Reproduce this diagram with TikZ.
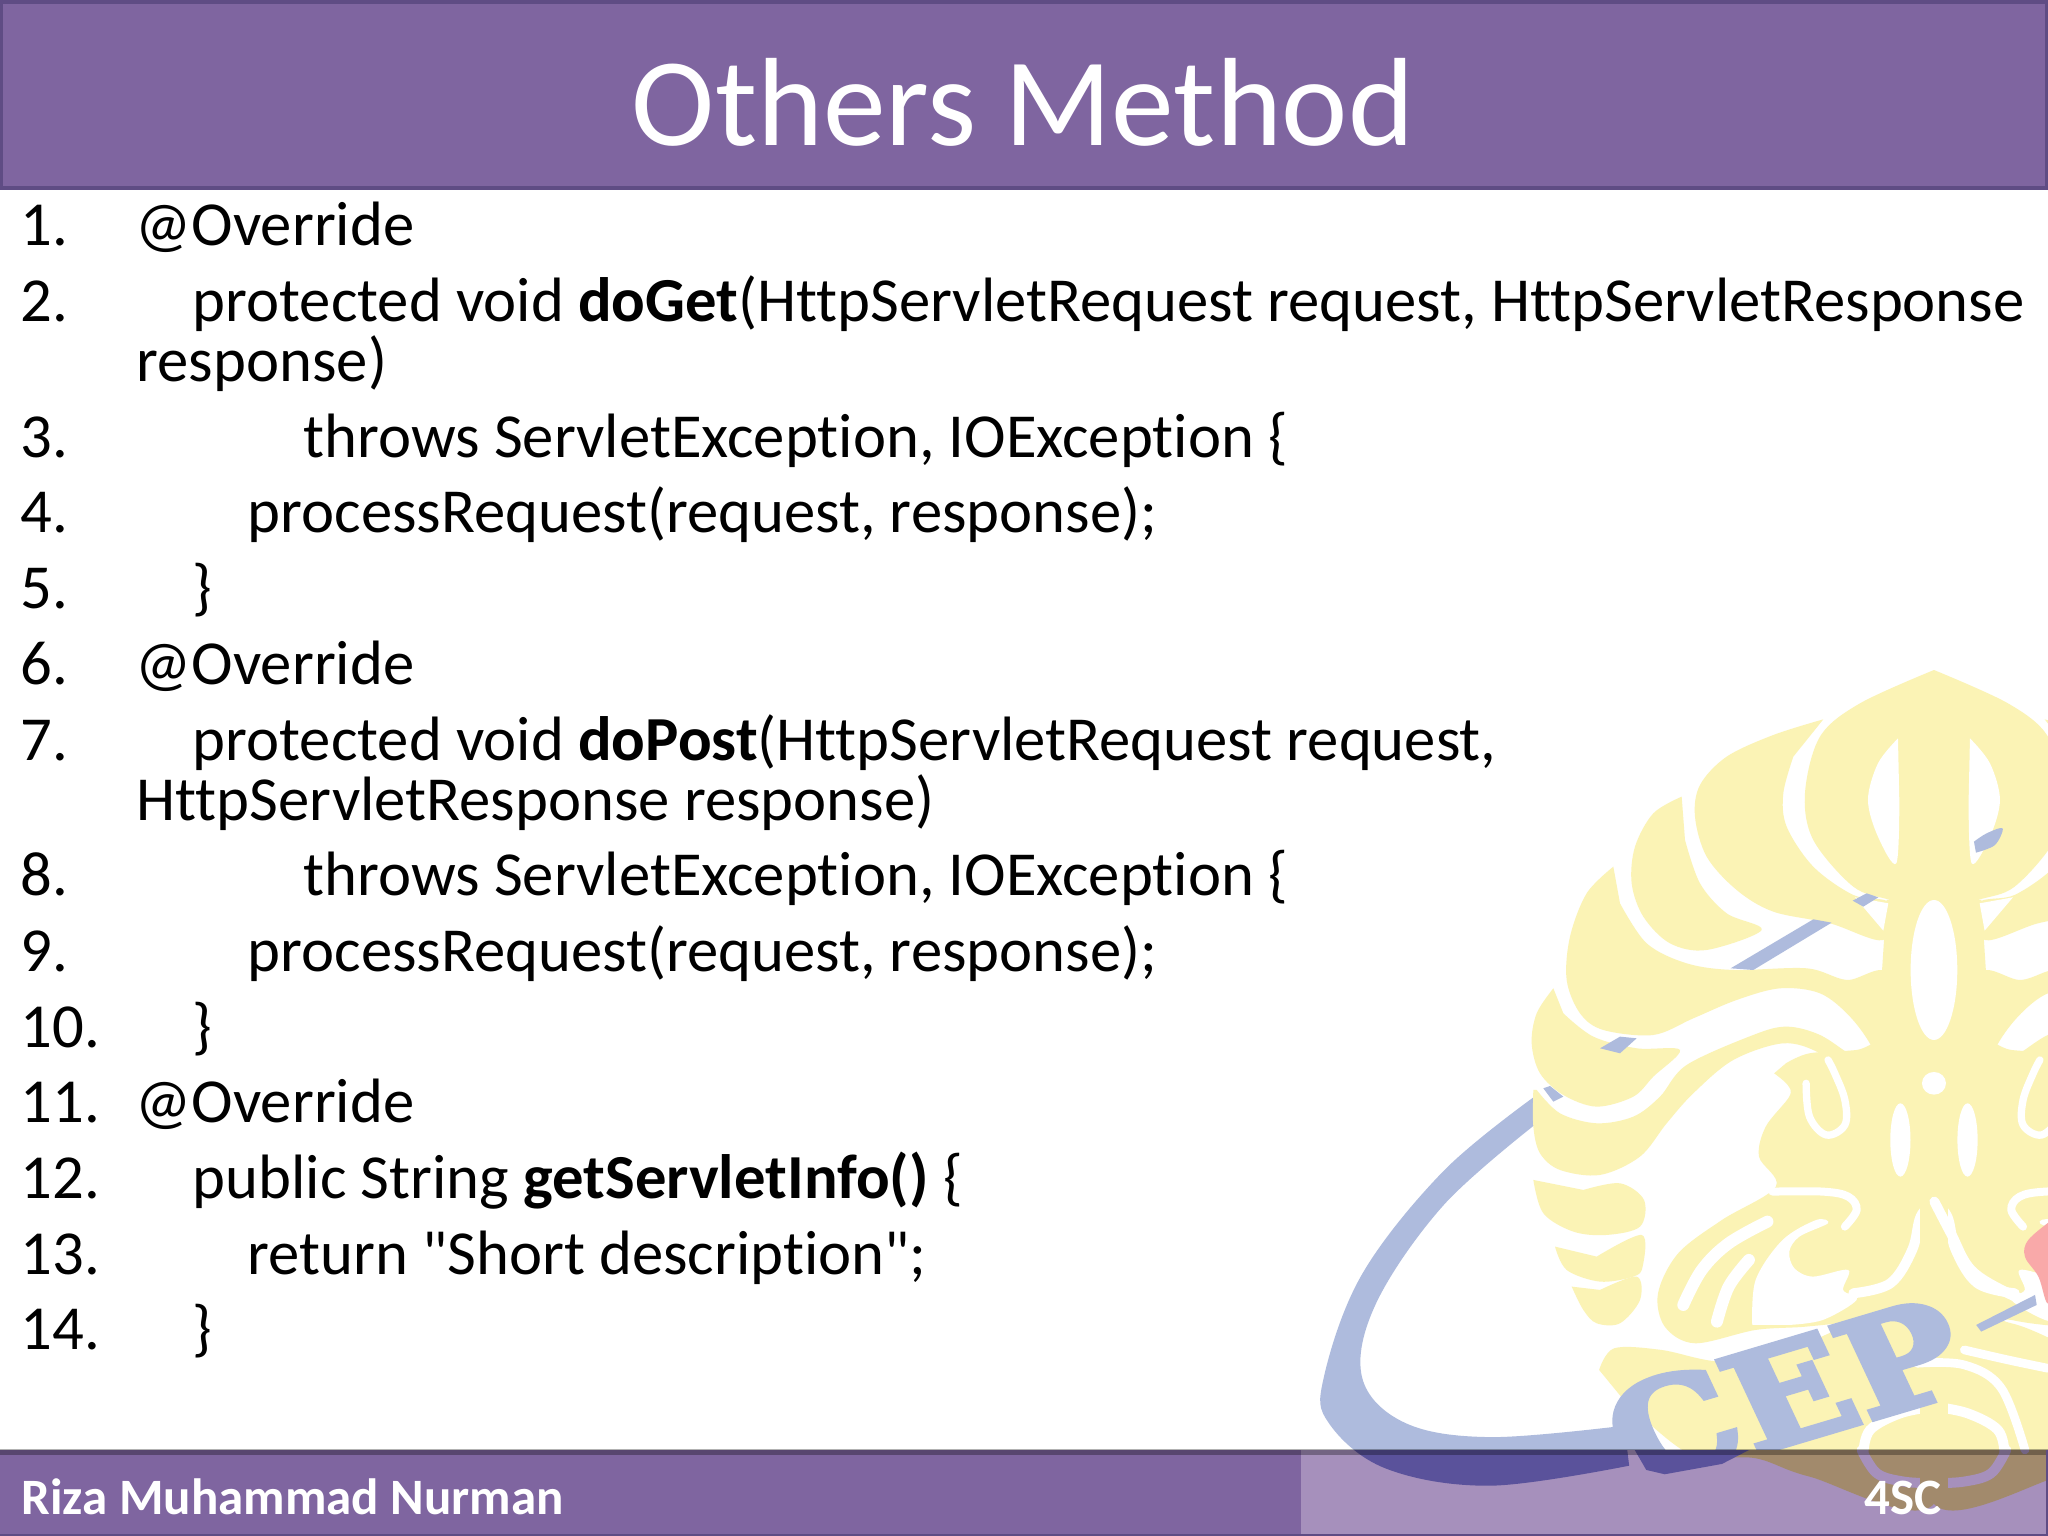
\documentclass[tikz,border=0pt]{standalone}
\usepackage{fontspec}
\setmainfont{Carlito}
\newfontfamily\codef[Ligatures=NoCommon]{Carlito}
\newfontfamily\logofont[BoldFeatures={FakeBold=4}]{DejaVu Serif}
\definecolor{barfill}{HTML}{7F65A0}
\definecolor{barline}{HTML}{5F4C84}
\definecolor{footlight}{HTML}{A690BC}
\colorlet{logoY}{white}\colorlet{logoB}{white}\colorlet{logoW}{white}\colorlet{logoR}{white}
\newcommand{\leaf}[2][logoY]{\fill[#1] plot[smooth,tension=.55] coordinates {#2} -- cycle;}
\newcommand{\cutline}[2][28]{\draw[logoW,line width=#1*0.0333mm,line cap=round] plot[smooth,tension=.6] coordinates {#2};}
\newcommand{\halfleaves}{%
  % head, left half
  \leaf{(1242,30)(1020,130)(900,230)(855,400)(880,540)(1000,680)(1110,720)(1242,760)}
  % leaves
  \leaf{(910,178)(760,225)(620,290)(540,375)(525,470)(560,590)(650,690)(760,755)(930,790)(1090,840)(1110,730)(1000,705)(880,620)(800,500)(790,400)(820,290)}
  \leaf{(485,410)(400,460)(345,560)(335,670)(370,770)(450,850)(560,870)(725,810)(620,760)(540,670)(495,540)}
  \leaf{(280,620)(200,700)(150,830)(140,960)(180,1060)(250,1110)(400,1125)(520,1075)(650,1020)(780,985)(900,1000)(990,1070)(1060,1170)(1100,1300)(1110,950)(980,960)(860,925)(640,930)(500,910)(380,850)(300,730)}
  \leaf{(100,985)(50,1060)(35,1150)(60,1240)(130,1305)(230,1340)(340,1310)(400,1250)(480,1170)(350,1165)(220,1130)(130,1060)}
  % next band, from the lower left up to the stem
  \leaf{(40,1290)(40,1400)(60,1480)(120,1530)(240,1545)(360,1490)(440,1390)(520,1300)(640,1200)(790,1150)(900,1180)(1000,1260)(1060,1350)(1100,1400)(1110,1250)(1000,1190)(900,1125)(800,1100)(700,1125)(500,1215)(420,1310)(340,1370)(230,1390)(120,1360)(50,1290)}
  \leaf{(40,1560)(70,1660)(160,1715)(260,1725)(360,1700)(372,1620)(300,1570)(190,1590)}
  \leaf{(105,1760)(140,1830)(240,1865)(340,1850)(368,1820)(365,1725)(230,1790)}
  \leaf{(155,1880)(190,1950)(230,1990)(300,1990)(360,1920)(350,1850)(240,1890)}
  % stem
  \fill[logoY] (1100,720) -- (1085,950) -- (1095,1500) -- (1242,1500) -- (1242,720) -- cycle;
  % head cut-outs
  \leaf[logoW]{(1134,235)(1074,310)(1044,420)(1074,530)(1129,610)(1138,420)}
  \fill[logoW] (1005,712) -- (1105,730) -- (1090,812) -- cycle;
  \begin{scope}[shift={(0,1200)},xscale=1.01]
    % body and fan
    \leaf{(755,40)(795,75)(800,110)(730,200)(710,290)(760,380)(600,480)(470,580)(410,700)(430,800)(520,850)(700,810)(850,800)(1000,780)(1231,720)(1231,-60)(1000,-30)(860,-20)(790,10)}
    % bottom scroll
    \leaf{(235,930)(280,865)(420,870)(600,905)(800,870)(1000,790)(1231,770)(1231,1330)(860,1250)(700,1195)(500,1180)(300,1010)}
    % white around the knob of the fan
    \cutline[24]{(750,395)(900,395)(975,410)(1000,450)(965,500)}
    \leaf[logoW]{(690,795)(700,660)(780,540)(880,480)(915,490)(830,530)(800,575)(815,625)(870,650)(975,630)(960,690)(1000,720)(900,780)(800,795)}
    \cutline[36]{(485,735)(540,630)(620,550)(735,485)}
    \cutline[36]{(585,785)(620,680)(680,600)}
    % curl
    \cutline[22]{(850,70)(860,170)(910,225)(965,195)(965,120)(935,40)(915,0)}
    % arch below the axis
    \cutline[30]{(990,700)(1100,670)(1165,570)(1190,470)(1231,425)}
    \fill[logoW] (1130,240) ellipse (30 and 110);
    % bottom white arcs
    \cutline[30]{(1020,1180)(1040,1110)(1130,1060)(1231,1040)}
    \cutline[30]{(1015,1170)(1060,1240)(1140,1265)(1231,1270)}
  \end{scope}
}
\newcommand{\logodraw}{%
  % blue swoosh, behind the emblem
  \begin{scope}[shift={(1300,640)},xscale=0.477,yscale=0.5714]
    \fill[logoB] plot[smooth,tension=.6] coordinates {(490,800)(300,930)(130,1110)(50,1290)(60,1370)(180,1450)(400,1480)(690,1445)} -- plot[smooth,tension=.6] coordinates {(680,1375)(400,1395)(220,1370)(130,1290)(160,1160)(300,990)(490,850)} -- cycle;
  \end{scope}
  \begin{scope}[shift={(1520,660)},scale=0.3333]
    \halfleaves
    \begin{scope}[shift={(2484,0)},xscale=-1]\halfleaves\end{scope}
    \fill[logoY] (1200,100) rectangle (1284,2530);
    \fill[logoW] (1242,930) ellipse (70 and 210);
    \fill[logoW] (1242,1270) ellipse (36 and 34);
    % white swooshes to the right of the P
    \begin{scope}[shift={(0,1200)},xscale=1.01]
      \cutline[30]{(1231,425)(1280,520)(1340,630)(1450,700)(1530,730)}
      \cutline[26]{(1180,910)(1320,915)(1430,985)(1500,1170)}
      \cutline[26]{(1320,870)(1450,900)(1568,925)}
      \fill[logoR] plot[smooth,tension=.6] coordinates {(1580,480)(1510,540)(1500,590)(1540,650)(1570,730)(1600,600)} -- cycle;
      \fill[logoB] (1355,795) -- (1530,705) -- (1535,735) -- (1370,815) -- cycle;
    \end{scope}
    % the swoosh where it shows through the gaps
    \leaf[logoB]{(1362,545)(1400,520)(1448,505)(1425,555)(1368,578)}
    \fill[logoB] (998,722) -- (1040,700) -- (1075,712) -- (1030,740) -- cycle;
    \fill[logoB] (632,925) -- (880,778) -- (935,788) -- (700,930) -- cycle;
    \fill[logoB] (240,1165) -- (300,1130) -- (350,1135) -- (300,1180) -- cycle;
    \fill[logoB] (70,1285) -- (90,1278) -- (130,1310) -- (100,1325) -- cycle;
  \end{scope}
}
\tikzset{
  code/.style={anchor=base west,inner sep=0pt,text=black,font=\codef\fontsize{17.82}{20}\selectfont},
  num/.style={code},
  foot/.style={anchor=base west,inner sep=0pt,text=white,font=\codef\fontsize{14.5}{16}\selectfont\bfseries},
}
\begin{document}
\begin{tikzpicture}[x=0.01cm,y=-0.01cm]
\useasboundingbox (0,0) rectangle (2048,1536);
\fill[white] (0,0) rectangle (2048,1536);
\begin{scope}
  \clip (0,0) rectangle (2048,1450);
  \definecolor{logoY}{HTML}{FBF3B5}\definecolor{logoB}{HTML}{AEBBDD}\definecolor{logoW}{HTML}{FFFFFF}\definecolor{logoR}{HTML}{F9A9A9}
  \logodraw
  \node[anchor=center,inner sep=0pt,transform shape,rotate=16.6,xslant=-0.15,xscale=1.13,text=logoB] (cep) at (1786,1393) {\logofont\bfseries\fontsize{39}{42}\selectfont CEP};
\end{scope}
% title bar
\fill[barfill,draw=barline,line width=0.04cm] (1,2) rectangle (2047,188);
\node[anchor=base,inner sep=0pt,text=white,font=\codef\fontsize{35.7}{40}\selectfont] (title) at (1023,145) {Others Method};
% footer
\fill[barfill] (0,1450) rectangle (1301,1536);
\fill[footlight] (1301,1450) rectangle (2048,1536);
\begin{scope}
  \clip (1301,1450) rectangle (2048,1536);
  \definecolor{logoY}{HTML}{A28A6C}\definecolor{logoB}{HTML}{5A529B}\definecolor{logoW}{HTML}{A690BC}\definecolor{logoR}{HTML}{A690BC}
  \logodraw
  \begin{scope}[shift={(1520,660)},scale=0.3333]
    \begin{scope}[shift={(0,1200)},xscale=1.01]
      \fill[logoB] (335,1160) -- (375,1230) -- (430,1243) -- (600,1212) -- (700,1160) -- cycle;
    \end{scope}
  \end{scope}
\end{scope}
\draw[black,opacity=.3,line width=0.06cm] (0,1452) -- (2048,1452);
\draw[barline,line width=0.03cm] (0,1535) -- (2048,1535);
\draw[barline,line width=0.02cm] (2047,1450) -- (2047,1536);
\node[foot] (author) at (21,1514) {Riza Muhammad Nurman};
\node[foot] (code4) at (1864,1514) {4SC};
% numbers
\node[num] (n1) at (20,245) {1.};
\node[num] (n2) at (20,321) {2.};
\node[num] (n3) at (20,457) {3.};
\node[num] (n4) at (20,532) {4.};
\node[num] (n5) at (20,608) {5.};
\node[num] (n6) at (20,684) {6.};
\node[num] (n7) at (20,760) {7.};
\node[num] (n8) at (20,895) {8.};
\node[num] (n9) at (20,971) {9.};
\node[num] (n10) at (20,1047) {10.};
\node[num] (n11) at (20,1122) {11.};
\node[num] (n12) at (20,1198) {12.};
\node[num] (n13) at (20,1274) {13.};
\node[num] (n14) at (20,1349) {14.};
% code
\node[code] (l1) at (135,245) {@Override};
\node[code] (l2) at (192,321) {protected void \textbf{doGet}(HttpServletRequest request, HttpServletResponse};
\node[code] (l2b) at (136,381) {response)};
\node[code] (l3) at (303,457) {throws ServletException, IOException \{};
\node[code] (l4) at (247,532) {processRequest(request, response);};
\node[code] (l5) at (192,608) {\}};
\node[code] (l6) at (135,684) {@Override};
\node[code] (l7) at (192,760) {protected void \textbf{doPost}(HttpServletRequest request,};
\node[code] (l7b) at (136,820) {HttpServletResponse response)};
\node[code] (l8) at (303,895) {throws ServletException, IOException \{};
\node[code] (l9) at (247,971) {processRequest(request, response);};
\node[code] (l10) at (192,1047) {\}};
\node[code] (l11) at (135,1122) {@Override};
\node[code] (l12) at (192,1198) {public String \textbf{getServletInfo()} \{};
\node[code] (l13) at (247,1274) {return "Short description";};
\node[code] (l14) at (192,1349) {\}};
\end{tikzpicture}
\end{document}
